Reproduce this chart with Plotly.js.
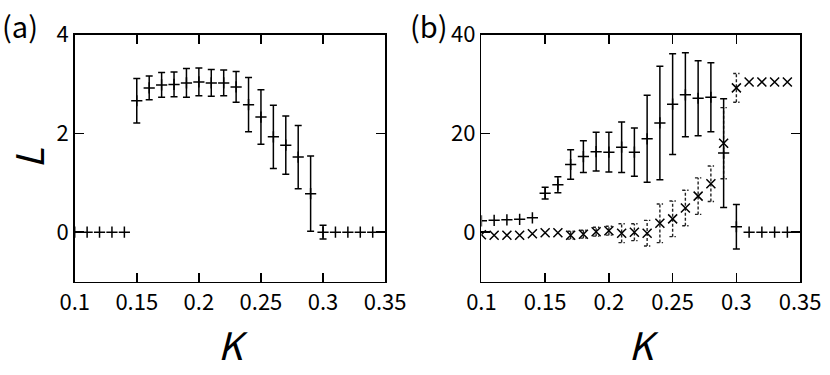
<!DOCTYPE html>
<html>
<head>
<meta charset="utf-8">
<script src="https://cdn.plot.ly/plotly-3.0.1.min.js"></script>
<style>
  html, body { margin: 0; padding: 0; background: #fff; }
  #chart { width: 830px; height: 375px; }
</style>
</head>
<body>
<div id="chart"></div>
<script>
////////// data
var K = [0.10, 0.11, 0.12, 0.13, 0.14, 0.15, 0.16, 0.17, 0.18, 0.19, 0.20, 0.21, 0.22,
         0.23, 0.24, 0.25, 0.26, 0.27, 0.28, 0.29, 0.30, 0.31, 0.32, 0.33, 0.34]

// panel (a)
var La    = [0, 0, 0, 0, 0, 2.66, 2.92, 2.98, 2.99, 3.02, 3.04, 3.02, 3.02,
             2.94, 2.58, 2.33, 1.93, 1.76, 1.52, 0.78, 0.0, 0, 0, 0, 0]
var LaErr = [0, 0, 0, 0, 0, 0.45, 0.24, 0.25, 0.25, 0.29, 0.28, 0.27, 0.26,
             0.31, 0.55, 0.55, 0.64, 0.59, 0.64, 0.76, 0.14, 0, 0, 0, 0]

// panel (b), "+" series
var plusB    = [2.3, 2.4, 2.5, 2.6, 2.9, 7.9, 9.6, 13.7, 15.3, 16.3, 16.2, 17.2, 16.2,
                18.9, 22.1, 25.9, 27.8, 27.1, 27.3, 16.0, 1.1, 0, 0, 0, 0]
var plusBErr = [0, 0, 0, 0, 0, 1.2, 1.6, 3.0, 3.2, 3.9, 4.0, 5.1, 4.9,
                8.8, 11.5, 10.2, 8.5, 7.6, 7.0, 11.0, 4.5, 0, 0, 0, 0]

// panel (b), "x" series
var crossB    = [-0.5, -0.6, -0.6, -0.6, -0.3, -0.1, -0.1, -0.6, -0.4, 0.1, 0.3, -0.2, 0,
                 -0.2, 1.8, 2.7, 4.9, 7.3, 9.8, 18.0, 29.2, 30.4, 30.4, 30.4, 30.4]
var crossBErr = [0, 0, 0, 0, 0, 0, 0, 0.8, 0.8, 0.9, 0.9, 1.9, 1.7,
                 2.6, 3.9, 3.6, 3.6, 3.7, 3.6, 7.2, 2.9, 0, 0, 0, 0]

var xTicks = [0.1, 0.15, 0.2, 0.25, 0.3, 0.35]
var xLabels = ['0.1', '0.15', '0.2', '0.25', '0.3', '0.35']

////////// dotted error bars for the x series (plotly error_y has no dash)
var cap = 0.0025
var dx = [], dy = []
for (var i = 0; i < K.length; i++) {
  var e = crossBErr[i]
  if (e <= 0) continue
  var lo = crossB[i] - e, hi = crossB[i] + e
  dx.push(K[i], K[i], null); dy.push(lo, hi, null)
  dx.push(K[i] - cap, K[i] + cap, null); dy.push(hi, hi, null)
  dx.push(K[i] - cap, K[i] + cap, null); dy.push(lo, lo, null)
}

var tickFont = {family: '"Noto Sans CJK JP", "Noto Sans", sans-serif', size: 22, color: '#000'}
var labFont = {family: '"Noto Sans CJK JP", "Noto Sans", sans-serif', size: 38, color: '#000', style: 'italic'}
var panelFont = {family: '"Noto Sans CJK JP", "Noto Sans", sans-serif', size: 29, color: '#000'}

// zero error -> no bar at all (plotly would still draw a flat cap)
var solidErr = function (arr) {
  return {type: 'data', visible: true, thickness: 1.5, width: 3.5, color: '#000',
          array: arr.map(function (v) { return v > 0 ? v : NaN })}
}

var data = [
  {x: K, y: La, xaxis: 'x', yaxis: 'y', type: 'scatter', mode: 'markers',
   marker: {symbol: 'cross-thin', size: 8, line: {width: 1.5, color: '#000'}},
   error_y: solidErr(LaErr)},
  {x: dx, y: dy, xaxis: 'x2', yaxis: 'y2', type: 'scatter', mode: 'lines',
   line: {color: '#222', width: 1.4, dash: '3px,2px'}, hoverinfo: 'skip'},
  {x: K, y: plusB, xaxis: 'x2', yaxis: 'y2', type: 'scatter', mode: 'markers',
   marker: {symbol: 'cross-thin', size: 8, line: {width: 1.5, color: '#000'}},
   error_y: solidErr(plusBErr)},
  {x: K, y: crossB, xaxis: 'x2', yaxis: 'y2', type: 'scatter', mode: 'markers',
   marker: {symbol: 'x-thin', size: 9, line: {width: 1.5, color: '#000'}}}
]

var xBase = {
  range: [0.1, 0.35], tickvals: xTicks, ticktext: xLabels,
  ticks: 'inside', ticklen: 9, tickwidth: 1.5, tickcolor: '#000',
  showline: true, linewidth: 1.5, linecolor: '#000', mirror: 'ticks',
  showgrid: false, zeroline: false, tickfont: tickFont, automargin: false,
  title: {text: 'K', font: labFont, standoff: 4}
}
var yBase = {
  ticks: 'inside', ticklen: 9, tickwidth: 1.5, tickcolor: '#000',
  showline: true, linewidth: 1.5, linecolor: '#000', mirror: 'ticks',
  showgrid: false, zeroline: false, tickfont: tickFont, automargin: false
}

var layout = {
  width: 830, height: 375,
  margin: {l: 0, r: 0, t: 0, b: 0},
  paper_bgcolor: '#fff', plot_bgcolor: '#fff',
  showlegend: false,
  xaxis: Object.assign({}, xBase, {domain: [0.09, 0.464], anchor: 'y'}),
  xaxis2: Object.assign({}, xBase, {domain: [0.580, 0.964], anchor: 'y2'}),
  yaxis: Object.assign({}, yBase, {domain: [0.249, 0.908], anchor: 'x', range: [-1, 4],
    tickvals: [0, 2, 4], title: {text: 'L', font: labFont, standoff: 22}}),
  yaxis2: Object.assign({}, yBase, {domain: [0.249, 0.908], anchor: 'x2', range: [-10, 40],
    tickvals: [0, 20, 40]}),
  annotations: [
    {text: '(a)', xref: 'paper', yref: 'paper', x: 0.0, y: 0.995, xanchor: 'left', yanchor: 'top',
     showarrow: false, font: panelFont},
    {text: '(b)', xref: 'paper', yref: 'paper', x: 0.492, y: 0.995, xanchor: 'left', yanchor: 'top',
     showarrow: false, font: panelFont}
  ]
}

Plotly.newPlot('chart', data, layout, {staticPlot: true})
</script>
</body>
</html>
